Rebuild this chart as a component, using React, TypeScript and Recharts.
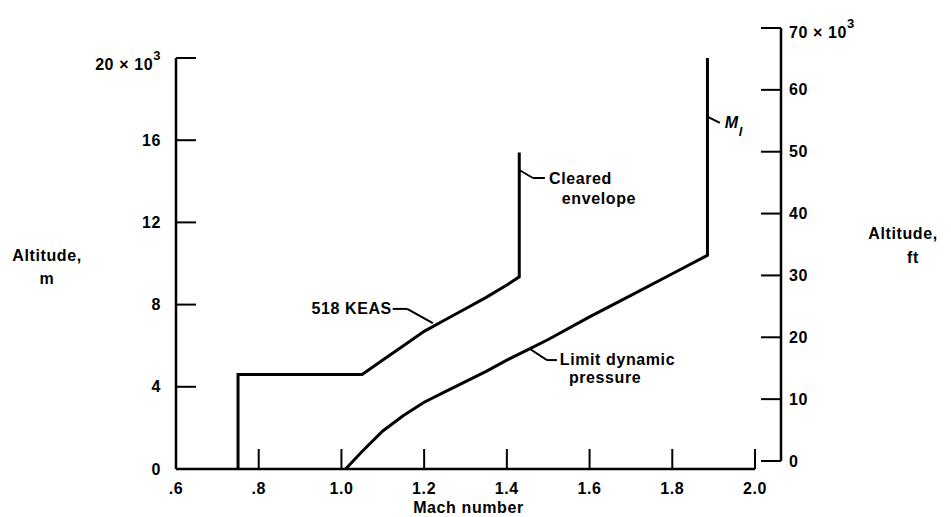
import { LineChart, Line, XAxis, YAxis, ReferenceLine, ReferenceDot } from "recharts";

// axis ticks
const machTicks = [0.6, 0.8, 1.0, 1.2, 1.4, 1.6, 1.8, 2.0];
const machTickLabels = [".6", ".8", "1.0", "1.2", "1.4", "1.6", "1.8", "2.0"];
const meterTicks = [0, 4000, 8000, 12000, 16000, 20000];
const meterTickLabels = ["0", "4", "8", "12", "16", "20"];
const feetTicks = [0, 10000, 20000, 30000, 40000, 50000, 60000, 70000];
const feetTickLabels = ["0", "10", "20", "30", "40", "50", "60", "70"];

// cleared envelope (518 KEAS), altitude in m
const envelopeMach = [0.75, 0.75, 1.05, 1.1, 1.15, 1.2, 1.25, 1.3, 1.35, 1.4, 1.43, 1.43];
const envelopeAlt = [0, 4600, 4600, 5300, 6000, 6700, 7250, 7800, 8350, 8950, 9350, 15400];

// limit dynamic pressure, then M_l
const limitMach = [1.01, 1.05, 1.1, 1.15, 1.2, 1.25, 1.3, 1.35, 1.4, 1.45, 1.5, 1.6, 1.7, 1.8, 1.885, 1.885];
const limitAlt = [0, 850, 1850, 2600, 3250, 3750, 4250, 4750, 5300, 5800, 6300, 7400, 8450, 9500, 10400, 20400];

const envelope = envelopeMach.map((m, i) => ({ mach: m, alt: envelopeAlt[i] }));
const limit = limitMach.map((m, i) => ({ mach: m, alt: limitAlt[i] }));

const FONT = "'Liberation Sans', Arial, sans-serif";
const txt = { fontFamily: FONT, fontSize: 16, fontWeight: 700, fill: "#000", letterSpacing: 0.6 } as const;

// leader lines, [mach, alt]
const leaders: [number, number][][] = [
  [[1.124, 7790], [1.159, 7790], [1.221, 7100]],
  [[1.43, 14550], [1.463, 14160], [1.492, 14160]],
  [[1.456, 5840], [1.497, 5300], [1.521, 5300]],
  [[1.886, 17130], [1.915, 16840]],
];

const notes = [
  { mach: 1.122, alt: 7790, text: "518 KEAS", anchor: "end" },
  { mach: 1.502, alt: 14160, text: "Cleared", anchor: "start" },
  { mach: 1.533, alt: 13140, text: "envelope", anchor: "start" },
  { mach: 1.528, alt: 5350, text: "Limit dynamic", anchor: "start" },
  { mach: 1.55, alt: 4470, text: "pressure", anchor: "start" },
];

const XTick = (props: any) => {
  const { x, y, payload } = props;
  const i = machTicks.indexOf(payload.value);
  return (
    <g>
      {i > 0 && <line x1={x} x2={x} y1={y} y2={y - 20} stroke="#000" strokeWidth={2} />}
      <text x={x} y={y + 19} textAnchor="middle" dominantBaseline="central" {...txt}>
        {machTickLabels[i]}
      </text>
    </g>
  );
};

const LeftTick = (props: any) => {
  const { x, y, payload } = props;
  const i = meterTicks.indexOf(payload.value);
  const top = i === meterTicks.length - 1;
  return (
    <g>
      <line x1={x} x2={x + 20} y1={y} y2={y} stroke="#000" strokeWidth={2} />
      <text x={x - 15} y={top ? y + 6 : y} textAnchor="end" dominantBaseline="central" {...txt}>
        {meterTickLabels[i]}
        {top && " × 10"}
        {top && <tspan dy={-9} fontSize={13}>3</tspan>}
      </text>
    </g>
  );
};

const RightTick = (props: any) => {
  const { x, y, payload } = props;
  const i = feetTicks.indexOf(payload.value);
  const top = i === feetTicks.length - 1;
  return (
    <g>
      <line x1={x} x2={x - 20} y1={y} y2={y} stroke="#000" strokeWidth={2} />
      <text x={x + 8} y={top ? y + 4 : y} textAnchor="start" dominantBaseline="central" {...txt}>
        {feetTickLabels[i]}
        {top && " × 10"}
        {top && <tspan dy={-9} fontSize={13}>3</tspan>}
      </text>
    </g>
  );
};

const LeftTitle = (props: any) => {
  const { viewBox } = props;
  const cx = viewBox.x - 69;
  return (
    <text textAnchor="middle" {...txt}>
      <tspan x={cx} y={viewBox.y + 203}>Altitude,</tspan>
      <tspan x={cx} y={viewBox.y + 226}>m</tspan>
    </text>
  );
};

const RightTitle = (props: any) => {
  const { viewBox } = props;
  return (
    <text textAnchor="middle" {...txt}>
      <tspan x={viewBox.x + 122} y={viewBox.y + 211}>Altitude,</tspan>
      <tspan x={viewBox.x + 132} y={viewBox.y + 235}>ft</tspan>
    </text>
  );
};

const XTitle = (props: any) => {
  const { viewBox } = props;
  return (
    <text x={viewBox.x + viewBox.width / 2 + 3} y={viewBox.y + 38} textAnchor="middle" dominantBaseline="central" {...txt}>
      Mach number
    </text>
  );
};

const noteLabel = (text: string, anchor: string) => (props: any) => {
  const { viewBox } = props;
  return (
    <text x={viewBox.x} y={viewBox.y} textAnchor={anchor as any} dominantBaseline="central" {...txt}>
      {text}
    </text>
  );
};

const mlLabel = (props: any) => {
  const { viewBox } = props;
  return (
    <text x={viewBox.x} y={viewBox.y} dominantBaseline="central" {...txt} fontStyle="italic">
      M<tspan dy={8} fontSize={13}>l</tspan>
    </text>
  );
};

export default function App() {
  return (
    <div style={{ position: "absolute", left: 0, top: 0, width: 951, height: 517, background: "#fff" }}>
      <div style={{ position: "absolute", left: 0, top: 0 }}>
        <LineChart width={951} height={517} margin={{ top: 58, right: 196, left: 116, bottom: 18 }}>
          <XAxis
            dataKey="mach"
            type="number"
            domain={[0.6, 2.0]}
            ticks={machTicks}
            height={30}
            tickSize={0}
            tickMargin={0}
            tickLine={false}
            tick={<XTick />}
            axisLine={{ stroke: "#000", strokeWidth: 2.5 }}
            label={<XTitle />}
            allowDataOverflow
          />
          <YAxis
            dataKey="alt"
            type="number"
            domain={[0, 20000]}
            ticks={meterTicks}
            width={60}
            tickSize={0}
            tickMargin={0}
            tickLine={false}
            tick={<LeftTick />}
            axisLine={{ stroke: "#000", strokeWidth: 2.5 }}
            label={<LeftTitle />}
            allowDataOverflow
          />
          <Line
            data={envelope}
            dataKey="alt"
            type="linear"
            stroke="#000"
            strokeWidth={3}
            dot={false}
            isAnimationActive={false}
          />
          <Line
            data={limit}
            dataKey="alt"
            type="linear"
            stroke="#000"
            strokeWidth={3}
            dot={false}
            isAnimationActive={false}
          />
          {leaders.map((pts, li) =>
            pts.slice(1).map((p, k) => (
              <ReferenceLine
                key={`${li}-${k}`}
                segment={[
                  { x: pts[k][0], y: pts[k][1] },
                  { x: p[0], y: p[1] },
                ]}
                stroke="#000"
                strokeWidth={2}
                ifOverflow="visible"
              />
            ))
          )}
          {notes.map((n) => (
            <ReferenceDot
              key={n.text}
              x={n.mach}
              y={n.alt}
              r={0}
              fill="none"
              stroke="none"
              ifOverflow="visible"
              label={noteLabel(n.text, n.anchor)}
            />
          ))}
          <ReferenceDot
            x={1.927}
            y={16840}
            r={0}
            fill="none"
            stroke="none"
            ifOverflow="visible"
            label={mlLabel}
          />
        </LineChart>
      </div>
      <div style={{ position: "absolute", left: 0, top: 0 }}>
        <LineChart width={951} height={517} data={envelope} margin={{ top: 28, right: 110, left: 176, bottom: 56 }}>
          <XAxis dataKey="mach" type="number" domain={[0.6, 2.0]} hide allowDataOverflow />
          <YAxis
            dataKey="alt"
            orientation="right"
            type="number"
            domain={[0, 70000]}
            ticks={feetTicks}
            width={60}
            tickSize={0}
            tickMargin={0}
            tickLine={false}
            tick={<RightTick />}
            axisLine={{ stroke: "#000", strokeWidth: 2.5 }}
            label={<RightTitle />}
            allowDataOverflow
          />
        </LineChart>
      </div>
    </div>
  );
}
